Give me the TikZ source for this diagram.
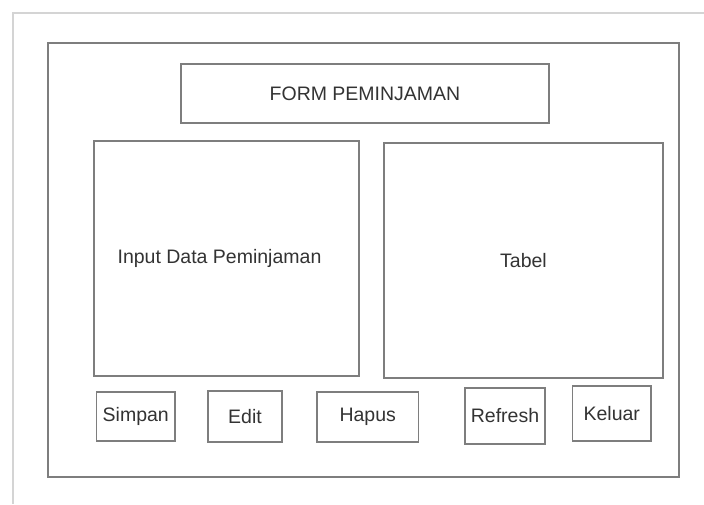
\documentclass[tikz,border=0pt]{standalone}
\usepackage{fontspec}
\setmainfont{Liberation Sans}
\definecolor{framegray}{HTML}{D4D4D4}
\definecolor{boxgray}{HTML}{7E7E7E}
\definecolor{txt}{HTML}{333333}
\begin{document}
\begin{tikzpicture}[x=1pt,y=-1pt,
  box/.style={draw=boxgray, line width=1.2pt, text=txt, inner sep=0pt,
    font=\fontsize{19.5}{23}\selectfont},
  btn/.style={box}]
\useasboundingbox[fill=white] (0,0) rectangle (704,504);
% outer window border (runs off the page to the right and bottom)
\coordinate (owTR) at (704,13);
\coordinate (owTL) at (13,13);
\coordinate (owBL) at (13,504);
\draw[framegray, line width=1.5pt] (owTR) -- (owTL) -- (owBL);
% form frame
\node[box, minimum width=631, minimum height=434] (frame) at (363.5,260) {};
% title
\node[box, minimum width=368, minimum height=59] (title) at (365,93.5) {FORM PEMINJAMAN};
% panels
\node[box, minimum width=265, minimum height=235] (input) at (226.5,258.5) {\hspace*{-14pt}Input Data Peminjaman};
\node[box, minimum width=279, minimum height=235] (tabel) at (523.5,260.5) {Tabel};
% buttons
\node[btn, minimum width=78.5, minimum height=49] (simpan) at (135.75,416.5) {Simpan};
\node[btn, minimum width=74, minimum height=51] (edit) at (245,416.5) {Edit};
\node[btn, minimum width=101.5, minimum height=50] (hapus) at (367.75,417) {\raisebox{3pt}{Hapus}};
\node[btn, minimum width=80, minimum height=56] (refresh) at (505,416) {Refresh};
\node[btn, minimum width=78.5, minimum height=55] (keluar) at (611.75,413.5) {Keluar};
\end{tikzpicture}
\end{document}
